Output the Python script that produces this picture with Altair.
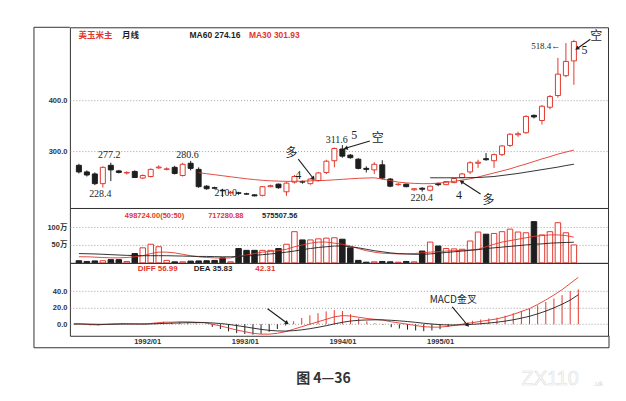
import altair as alt
import pandas as pd

# ---------------- data ----------------
opens = [272, 259, 255, 236, 272, 261, 257, 260, 247, 250,
         267, 264, 268, 252, 276, 264, 231, 228, 223, 218,
         218, 216, 214, 213, 230, 235, 220, 239, 240, 236,
         242, 258, 281, 304, 292, 284, 266, 263, 273, 245,
         234, 235, 224, 227, 223, 236, 234, 238, 248, 259,
         276, 285, 281, 293, 311, 332, 336, 370, 360, 386,
         409, 448, 477]
highs = [275, 262, 258, 270, 277.2, 263, 260, 262, 254, 266,
         272, 268, 271, 277, 280.6, 268, 233, 230, 226, 222,
         220, 218, 215, 231, 234, 236, 240, 253, 242, 246,
         259, 283, 307, 311.6, 294, 286, 270, 278, 282, 247,
         237, 236, 227, 229, 232, 238, 241, 247, 257, 280,
         283, 296, 295, 312, 335, 338, 370, 372, 390, 410,
         483, 512, 518.4]
lows = [256, 250, 233, 228.4, 241, 256, 254, 247, 245, 248,
        265, 262, 254, 250, 262, 228, 224, 225, 210, 215,
        214, 214, 211, 211, 229, 226, 212, 236, 236, 234,
        240, 255, 268, 287, 285, 264, 258, 255, 244, 229,
        232, 229, 222, 220.4, 221, 231, 233, 237, 247, 255,
        267, 281, 267, 290, 308, 328, 334, 364, 352, 382,
        405, 445, 430]
closes = [259, 253, 236, 268, 263, 258, 258, 248, 252, 264,
          268.5, 265, 256, 274, 266, 230, 226, 227, 222, 219,
          217, 215.5, 212, 230, 232, 228, 237, 250, 239, 245,
          257, 280, 305, 290, 287, 266, 264, 274, 247, 231,
          235, 230, 226, 225, 231, 234, 240, 246, 255, 277,
          278, 283, 293, 310, 333, 334, 368, 367, 388, 407,
          451, 476, 515]
# volume in 万
volumes = [6, 4, 5.5, 6, 9, 9, 4, 26, 42, 52,
           45, 7, 3, 3, 5, 5.5, 6, 7, 14, 3,
           40, 35, 35, 35, 35, 40, 52, 87, 64, 64,
           67, 69, 70, 66, 42, 7, 2, 3, 4, 3,
           2, 4, 3, 33, 58, 47, 40, 39, 38, 61,
           86, 80, 82, 87, 94, 86, 84, 115, 78, 87,
           112, 84, 50]
vol_ma_red = [17, 17, 16, 15, 14, 14, 15, 17, 20,
              26, 30, 30, 28, 24, 20,
              17, 15, 14, 13, 14,
              18, 22, 26, 30, 32, 34,
              38, 45, 50, 55, 58, 58,
              55, 52, 47, 40,
              34, 30, 27, 26, 25, 25, 26, 28,
              30, 31, 33, 34, 35, 36,
              38, 45, 52, 58, 62, 66, 70,
              74, 76, 78, 78, 76, 71.7]
vol_ma_black = [26, 25.5, 25, 24, 23, 22, 21, 20.5, 20, 20, 20, 20, 19.5, 19, 18.5,
                18, 18, 17.5, 17, 17, 18, 19, 21, 23, 25, 27,
                30, 33, 37, 40, 43, 45, 47, 47,
                45, 42, 38, 34, 31, 28, 26, 25, 24, 24,
                25, 27, 29, 31, 33, 35, 37, 40, 42, 44,
                46, 48, 50, 52, 53, 55, 56, 57, 57.6]
ma30_start = 15
ma30 = [257.5, 255.5, 253.5, 251.5, 249.5, 247.5, 245.5, 244, 242.5, 241.5,
        241, 240.5, 240.5, 241, 241.5, 242, 242.5, 243.5, 244.5, 245.5,
        246.5, 247, 247.5, 245, 242, 239, 237.5, 236.5, 236, 236,
        237, 238.5, 240.5, 243, 245.5, 249, 253, 257, 261, 265,
        270, 274.5, 279.5, 284.5, 289, 294, 298, 301.93]
ma60_start = 44
ma60 = [247.5, 247.5, 247.5, 247.5, 247.5, 247.8, 248, 249, 250, 252,
        254, 256, 258.5, 261, 263.5, 266, 268.5, 271.5, 274.16]
diff = [0.5, 0.3, -0.5, -0.8, 0.0, 0.5, 0.8, 0.5, 0.3, 0.5,
        1.5, 2.5, 2.5, 3.0, 3.0, 2.5, 2.0, 0.0, -2.0, -4.5,
        -7.0, -9.0, -11.0, -12.0, -12.0, -11.0, -9.0, -6.0, -3.0, 0.0,
        3.0, 6.0, 9.0, 10.5, 10.0, 8.5, 7.0, 6.0, 5.0, 3.0,
        1.5, 0.0, -1.5, -3.0, -3.5, -3.5, -2.5, -1.0, 0.5, 2.0,
        3.5, 5.0, 6.5, 9.0, 12.0, 15.5, 19.0, 24.0, 29.5, 35.5,
        42.0, 49.5, 56.99]
dea = [0.3, 0.3, 0.1, -0.1, -0.1, 0.0, 0.2, 0.3, 0.3, 0.3,
       0.6, 1.0, 1.3, 1.6, 1.9, 2.0, 2.0, 1.6, 0.9, -0.2,
       -1.6, -3.1, -4.7, -6.2, -7.4, -8.1, -8.3, -7.8, -6.8, -5.4,
       -3.7, -1.8, 0.4, 2.4, 3.9, 4.8, 5.2, 5.4, 5.3, 4.8,
       4.1, 3.3, 2.3, 1.2, 0.3, -0.5, -0.9, -0.9, -0.6, -0.1,
       0.6, 1.5, 2.5, 3.8, 5.4, 7.4, 9.7, 12.6, 16.0, 19.9,
       24.3, 29.3, 35.83]
macd = [0.4, 0.0, -1.2, -1.4, 0.2, 1.0, 1.2, 0.4, 0.0, 0.4,
        1.8, 3.0, 2.4, 2.8, 2.2, 1.0, 0.0, -3.2, -5.8, -8.6,
        -10.8, -11.8, -12.6, -11.6, -9.2, -5.8, -1.4, 3.6, 7.6, 10.8,
        13.4, 15.6, 17.2, 16.2, 12.2, 7.4, 3.6, 1.2, -0.6, -3.6,
        -5.2, -6.6, -7.6, -8.4, -7.6, -6.0, -3.2, -0.2, 2.2, 4.2,
        5.8, 7.0, 8.0, 10.4, 13.2, 16.2, 18.6, 22.8, 27.0, 31.2,
        35.4, 40.4, 42.31]
year_ticks = [9, 21, 33, 45]
year_labels = ["1992/01", "1993/01", "1994/01", "1995/01"]
price_ticks = [300, 400]
vol_ticks = [50, 100]
macd_ticks = [0, 20, 40]

# ---------------- styling ----------------
RED = "#e2382d"
BLACK = "#1e1e1e"
W, H1, H2, H3 = 539, 181, 55, 73
AXW = 36
LABFONT = "Liberation Sans, Noto Sans CJK SC"
CJK = "Noto Sans CJK SC"
SERIF = "Liberation Serif"

n = len(opens)
idx = list(range(n))
up = [c >= o for o, c in zip(opens, closes)]
cdf = pd.DataFrame({
    "i": idx, "o": opens, "h": highs, "l": lows, "c": closes, "v": volumes,
    "col": [RED if u else BLACK for u in up],
    "fill": ["#ffffff" if u else BLACK for u in up],
    "vr": vol_ma_red, "vb": vol_ma_black,
    "diff": diff, "dea": dea, "macd": macd,
    "mcol": [RED if m >= 0 else BLACK for m in macd],
})
ma30_df = pd.DataFrame({"i": list(range(ma30_start, ma30_start + len(ma30))), "v": ma30})
ma60_df = pd.DataFrame({"i": list(range(ma60_start, ma60_start + len(ma60))), "v": ma60})

XS = alt.Scale(domain=[-0.5, 65.65], nice=False, zero=False)
label_expr = " : ".join(
    f"datum.value == {t} ? '{s}'" for t, s in zip(year_ticks, year_labels)) + " : ''"
AXX = alt.Axis(values=year_ticks, labelExpr=label_expr, ticks=False, domain=False,
               grid=False, labelPadding=2, title=None)


def X(field="i", axis=None):
    return alt.X(f"{field}:Q", scale=XS, axis=axis, title=None)


def yaxis(values, fmt=None, expr=None):
    kw = dict(values=values, grid=True, ticks=False, domain=False, labelPadding=3,
              minExtent=AXW, maxExtent=AXW, title=None, gridDash=[1, 2],
              gridColor="#8a8a8a", gridWidth=0.8)
    if fmt:
        kw["format"] = fmt
    if expr:
        kw["labelExpr"] = expr
    return alt.Axis(**kw)


YM = alt.Scale(domain=[188.2, 543], nice=False, zero=False)
AXM = yaxis(price_ticks, fmt=".1f")
YV = alt.Scale(domain=[0, 153], nice=False, zero=False)
AXV = yaxis(vol_ticks, expr="datum.value + '万'")
YC = alt.Scale(domain=[-14, 74.5], nice=False, zero=False)
AXC = yaxis(macd_ticks, fmt=".1f")


def YMf(f):
    return alt.Y(f"{f}:Q", scale=YM, axis=AXM, title=None)


def YVf(f):
    return alt.Y(f"{f}:Q", scale=YV, axis=AXV, title=None)


def YCf(f):
    return alt.Y(f"{f}:Q", scale=YC, axis=AXC, title=None)


one = pd.DataFrame({"k": [0]})

# ---------------- main (price) panel ----------------
base = alt.Chart(cdf)
wick = base.mark_rule(strokeWidth=1).encode(
    x=X(), y=YMf("l"), y2="h:Q", color=alt.Color("col:N", scale=None))
body = base.mark_bar(size=5, strokeWidth=1).encode(
    x=X(), y=YMf("o"), y2="c:Q",
    fill=alt.Fill("fill:N", scale=None), stroke=alt.Stroke("col:N", scale=None))
l30 = alt.Chart(ma30_df).mark_line(color=RED, strokeWidth=0.9).encode(x=X(), y=YMf("v"))
l60 = alt.Chart(ma60_df).mark_line(color=BLACK, strokeWidth=0.9).encode(x=X(), y=YMf("v"))

hl_df = pd.DataFrame({
    "x": [2.69, 3.8, 13.61, 18.4, 32.3, 42.95],
    "y": [215.7, 293.1, 292.2, 216.7, 321.6, 208.4],
    "t": ["228.4", "277.2", "280.6", "210.0", "311.6", "220.4"]})
hl = alt.Chart(hl_df).mark_text(font=SERIF, fontSize=10, color=BLACK, baseline="middle").encode(
    x=X("x"), y=YMf("y"), text="t:N")
top_df = pd.DataFrame({"x": [60.3], "y": [505.9], "t": ["518.4←"]})
toplab = alt.Chart(top_df).mark_text(font=SERIF, fontSize=9, color=BLACK, align="right",
                                     baseline="middle").encode(x=X("x"), y=YMf("y"), text="t:N")

wave_df = pd.DataFrame({"x": [34.5, 27.48, 63.32, 47.6], "y": [331, 253, 498, 213.7],
                        "t": ["5", "4", "5", "4"]})
wave = alt.Chart(wave_df).mark_text(font=SERIF, fontSize=12, color=BLACK, baseline="middle").encode(
    x=X("x"), y=YMf("y"), text="t:N")
cn_df = pd.DataFrame({"x": [37.42, 26.62, 64.79, 51.29], "y": [325.5, 296.1, 525.5, 203.9],
                      "t": ["空", "多", "空", "多"]})
cn = alt.Chart(cn_df).mark_text(font=CJK, fontSize=12, color=BLACK, baseline="middle").encode(
    x=X("x"), y=YMf("y"), text="t:N")

arr_m = pd.DataFrame({
    "x1": [27.48, 36.44, 64.06, 50.31], "y1": [284.3, 319.6, 519.6, 215.7],
    "x2": [29.32, 33.5, 62.46, 47.98], "y2": [247.1, 305.9, 501.9, 239.2],
    "a": [141.7, 253.7, 235.3, 302.3]})
shaft_m = alt.Chart(arr_m).mark_rule(color=BLACK, strokeWidth=1.1).encode(
    x=X("x1"), x2="x2:Q", y=YMf("y1"), y2="y2:Q")
head_m = alt.Chart(arr_m).mark_point(shape="triangle", filled=True, size=22, color=BLACK,
                                     opacity=1).encode(
    x=X("x2"), y=YMf("y2"), angle=alt.Angle("a:Q", scale=None))

leg_m = pd.DataFrame({"x": [-0.05, 5.39, 13.86, 21.3], "y": [527.5] * 4,
                      "t": ["美玉米主", "月线", "MA60 274.16", "MA30 301.93"],
                      "c": [RED, BLACK, BLACK, RED]})
legm = alt.Chart(leg_m).mark_text(font=LABFONT, fontSize=8.5, fontWeight="bold", align="left",
                                  baseline="middle").encode(
    x=X("x"), y=YMf("y"), text="t:N", color=alt.Color("c:N", scale=None))

frame_m1 = alt.Chart(one).mark_rule(color="#333", strokeWidth=1).encode(
    x=alt.value(-AXW), y=alt.value(0), y2=alt.value(H1))
frame_m2 = alt.Chart(one).mark_rule(color="#333", strokeWidth=1).encode(
    x=alt.value(-AXW), x2=alt.value(0), y=alt.value(0))

main = alt.layer(wick, body, l30, l60, hl, toplab, wave, cn, shaft_m, head_m, legm,
                 frame_m1, frame_m2).properties(width=W, height=H1)

# ---------------- volume panel ----------------
vbar = base.mark_bar(size=5.5, strokeWidth=1).encode(
    x=X(), y=YVf("v"), y2=alt.datum(0),
    fill=alt.Fill("fill:N", scale=None), stroke=alt.Stroke("col:N", scale=None))
vr = base.mark_line(color=RED, strokeWidth=0.9).encode(x=X(), y=YVf("vr"))
vb = base.mark_line(color=BLACK, strokeWidth=0.9).encode(x=X(), y=YVf("vb"))
leg_v = pd.DataFrame({"x": [5.76, 16.19, 22.94], "y": [130.6] * 3,
                      "t": ["498724.00(50:50)", "717280.88", "575507.56"],
                      "c": [RED, RED, BLACK]})
legv = alt.Chart(leg_v).mark_text(font=LABFONT, fontSize=7.5, fontWeight="bold", align="left",
                                  baseline="middle").encode(
    x=X("x"), y=YVf("y"), text="t:N", color=alt.Color("c:N", scale=None))
frame_v = alt.Chart(one).mark_rule(color="#333", strokeWidth=1).encode(
    x=alt.value(-AXW), y=alt.value(0), y2=alt.value(H2))
vol = alt.layer(vbar, vr, vb, legv, frame_v).properties(width=W, height=H2)

# ---------------- MACD panel ----------------
hist = base.mark_rule(strokeWidth=1).encode(
    x=X(axis=AXX), y=YCf("macd"), y2=alt.datum(0), color=alt.Color("mcol:N", scale=None))
ldiff = base.mark_line(color=RED, strokeWidth=0.9).encode(x=X(axis=AXX), y=YCf("diff"))
ldea = base.mark_line(color=BLACK, strokeWidth=0.9).encode(x=X(axis=AXX), y=YCf("dea"))
leg_c = pd.DataFrame({"x": [7.85, 14.72, 22.3], "y": [67.3] * 3,
                      "t": ["DIFF  56.99", "DEA  35.83", "42.31"],
                      "c": [RED, BLACK, RED]})
legc = alt.Chart(leg_c).mark_text(font=LABFONT, fontSize=8, fontWeight="bold", align="left",
                                  baseline="middle").encode(
    x=X("x", AXX), y=YCf("y"), text="t:N", color=alt.Color("c:N", scale=None))
arr_c = pd.DataFrame({"x1": [23.8, 46.5], "y1": [18.8, 21.2], "x2": [26.13, 48.35],
                      "y2": [1.8, -0.6], "a": [126.4, 140.2]})
shaft_c = alt.Chart(arr_c).mark_rule(color=BLACK, strokeWidth=1.1).encode(
    x=X("x1", AXX), x2="x2:Q", y=YCf("y1"), y2="y2:Q")
head_c = alt.Chart(arr_c).mark_point(shape="triangle", filled=True, size=22, color=BLACK,
                                     opacity=1).encode(
    x=X("x2", AXX), y=YCf("y2"), angle=alt.Angle("a:Q", scale=None))
gold_df = pd.DataFrame({"x": [46.63], "y": [29.1], "t": ["MACD金叉"]})
gold = alt.Chart(gold_df).mark_text(font=CJK, fontSize=10, color=BLACK, baseline="middle").encode(
    x=X("x", AXX), y=YCf("y"), text="t:N")
frame_c1 = alt.Chart(one).mark_rule(color="#333", strokeWidth=1).encode(
    x=alt.value(-AXW), y=alt.value(0), y2=alt.value(H3 + 12))
frame_c2 = alt.Chart(one).mark_rule(color="#333", strokeWidth=1).encode(
    x=alt.value(-AXW), x2=alt.value(W + 1), y=alt.value(H3 + 12))
frame_c3 = alt.Chart(one).mark_rule(color="#333", strokeWidth=1).encode(
    x=alt.value(W + 1), y=alt.value(H3), y2=alt.value(H3 + 12))
cap_df = pd.DataFrame({"t": ["图 4—36"]})
caption = alt.Chart(cap_df).mark_text(font=CJK, fontSize=14, fontWeight="bold", color="#333",
                                      baseline="middle").encode(
    x=alt.value(254), y=alt.value(116), text="t:N")
wm_df = pd.DataFrame({"t": ["ZX110"]})
wm = alt.Chart(wm_df).mark_text(font="Liberation Sans", fontSize=20, fill="#ffffff",
                                stroke="#dddddd", strokeWidth=0.6, baseline="middle").encode(
    x=alt.value(481), y=alt.value(116), text="t:N")
wm2_df = pd.DataFrame({"t": [".uk"]})
wm2 = alt.Chart(wm2_df).mark_text(font="Liberation Sans", fontSize=8, color="#dadada",
                                  baseline="middle").encode(
    x=alt.value(529), y=alt.value(121), text="t:N")

macdp = alt.layer(hist, ldiff, ldea, legc, shaft_c, head_c, gold, frame_c1, frame_c2,
                  frame_c3, caption, wm, wm2).properties(width=W, height=H3)

chart = alt.vconcat(main, vol, macdp, spacing=0, bounds="flush").properties(
    padding={"left": 25, "top": 18, "right": 8, "bottom": 2}
).configure_view(stroke="#333", strokeWidth=1).configure_axis(
    labelFont=LABFONT, labelFontSize=7.5, labelFontWeight="bold", labelColor="#333"
).configure_concat(spacing=0)

chart.save("out.html", embed_options={"renderer": "svg", "actions": False})
